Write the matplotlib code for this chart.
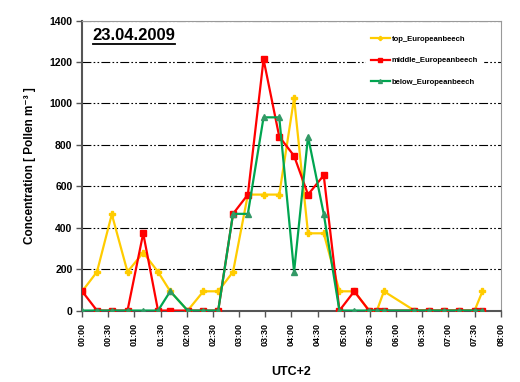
import numpy as np
import matplotlib
matplotlib.use("Agg")
import matplotlib.pyplot as plt

plt.rcParams['font.family'] = ['Liberation Sans', 'DejaVu Sans']
plt.rcParams['font.weight'] = 'bold'

# sampling times (UTC+2)
times = ["00:00", "00:17", "00:34", "00:52", "01:10", "01:27", "01:41", "02:01",
         "02:19", "02:36", "02:53", "03:10", "03:28", "03:46", "04:03", "04:19",
         "04:37", "04:55", "05:12", "05:29", "05:38", "05:46", "06:21", "06:38",
         "06:55", "07:12", "07:30", "07:39"]

# pollen concentration [Pollen m-3]
top_beech = [93, 187, 465, 187, 280, 187, 93, 0, 93, 93, 187, 560, 560, 560,
             1025, 373, 373, 93, 93, 0, 0, 93, 0, 0, 0, 0, 0, 93]
middle_beech = [93, 0, 0, 0, 373, 0, 0, 0, 0, 0, 467, 560, 1213, 840,
                747, 560, 653, 0, 93, 0, 0, 0, 0, 0, 0, 0, 0, 0]
below_beech = [0, 0, 0, 0, 0, 0, 93, 0, 0, 0, 467, 467, 933, 933,
               187, 840, 467, 0, 0, 0, 0, 0, 0, 0, 0, 0, 0, 0]

tick_labels = ["00:00", "00:30", "01:00", "01:30", "02:00", "02:30", "03:00", "03:30",
               "04:00", "04:30", "05:00", "05:30", "06:00", "06:30", "07:00", "07:30", "08:00"]

hours = np.array([int(t[:2]) + int(t[3:]) / 60.0 for t in times])

fig = plt.figure(figsize=(5.2, 3.82), dpi=100)
ax = fig.add_axes([0.158, 0.187, 0.805, 0.759])

ax.plot(hours, top_beech, color='#FFCC00', lw=1.6, marker='P', ms=4,
        mec='#FFCC00', mfc='#FFCC00', label='top_Europeanbeech', zorder=3)
ax.plot(hours, middle_beech, color='#FF0000', lw=1.6, marker='s', ms=4,
        mec='#FF0000', mfc='#FF0000', label='middle_Europeanbeech', zorder=4)
ax.plot(hours, below_beech, color='#00A550', lw=1.6, marker='^', ms=4,
        mec='#339966', mfc='#339966', label='below_Europeanbeech', zorder=5)

ax.set_xlim(0, 8)
ax.set_ylim(0, 1400)
ax.set_yticks(np.arange(0, 1401, 200))
ax.set_xticks(np.arange(0, 8.01, 0.5))
ax.set_xticklabels(tick_labels, rotation=90, fontsize=6.5, fontweight='bold')
ax.tick_params(axis='y', labelsize=7.5, length=4, width=1, color='#555555', pad=3)
ax.tick_params(axis='x', length=4, width=1, color='#555555', pad=5)
for lbl in ax.get_yticklabels():
    lbl.set_fontweight('bold')

ax.yaxis.grid(True, color='black', lw=0.8, linestyle=(0, (8, 2, 1.5, 2, 1.5, 2)))
ax.set_axisbelow(True)

for side in ['left', 'bottom']:
    ax.spines[side].set_color('#555555')
    ax.spines[side].set_linewidth(1.5)
for side in ['top', 'right']:
    ax.spines[side].set_color('#999999')
    ax.spines[side].set_linewidth(0.8)

ax.set_ylabel("Concentration [ Pollen m\u207b\u00b3 ]", fontsize=8.5, fontweight='bold', labelpad=10)
ax.set_xlabel("UTC+2", fontsize=9, fontweight='bold', labelpad=14)

ax.text(0.025, 0.948, "23.04.2009", transform=ax.transAxes, fontsize=12,
        fontweight='bold', ha='left', va='center')
# underline of the date
ax.plot([0.025, 0.222], [0.918, 0.918], transform=ax.transAxes, color='black', lw=1.3, clip_on=False)

leg = ax.legend(loc='upper left', bbox_to_anchor=(366 / 520, 1 - 31 / 382), bbox_transform=fig.transFigure,
                prop={'size': 5.5, 'weight': 'bold'}, frameon=True, fancybox=False,
                handlelength=2.5, handletextpad=0.25, labelspacing=1.85, borderpad=0.6,
                borderaxespad=0, markerscale=0.7)
leg.get_frame().set_facecolor('white')
leg.get_frame().set_edgecolor('white')
leg.get_frame().set_alpha(1)

plt.savefig("out.png", dpi=100)
